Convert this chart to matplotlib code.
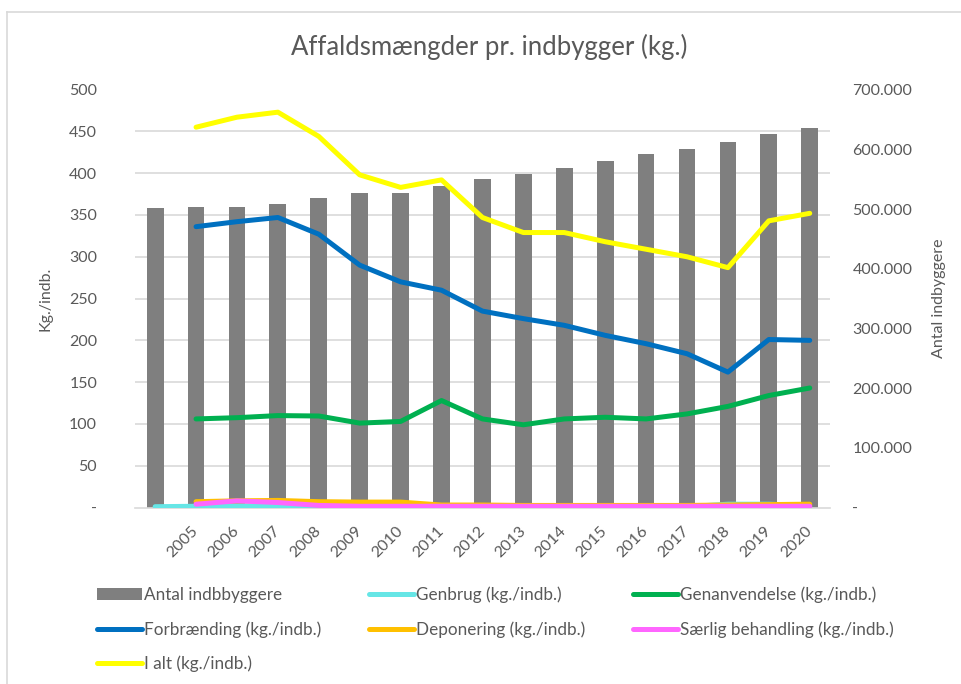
import matplotlib.pyplot as plt
import numpy as np
from matplotlib.lines import Line2D
from matplotlib.ticker import FuncFormatter, MultipleLocator

plt.rcParams['font.family'] = ['Lato', 'DejaVu Sans']

# first category has no year label in the original chart
years = [''] + [str(y) for y in range(2005, 2021)]

antal_indbyggere = [501000, 503000, 504000, 509000, 519000, 527000, 527000, 539000, 550000,
                    559000, 568000, 580000, 592000, 601000, 613000, 625000, 635000]

nan = np.nan
genbrug = [1, 1.5, 2, 2, 1.5, 0.5, 0.3, 0.2, 0.2, 0.2, 0.2, 0.2, 0.3, 1, 4, 4, 2]
genanvendelse = [nan, 106, 107.5, 110, 109.5, 101, 103, 128, 106, 99, 106, 108, 106, 112, 121, 134, 143]
forbraending = [nan, 336, 342, 347, 327, 290, 270, 260, 235, 226, 218, 206, 196, 184, 162, 201, 200]
deponering = [nan, 7, 8, 8.5, 7, 6.5, 6.5, 3, 3, 2.5, 2.5, 2.5, 2.5, 2.5, 3, 3.5, 4]
saerlig = [nan, 4, 8, 6, 2.5, 1.5, 1.5, 1.5, 1.5, 1.5, 1.5, 1.5, 1.5, 1.5, 1.5, 1.5, 1.5]
i_alt = [nan, 455, 467, 473, 444, 398, 383, 392, 347, 329, 329, 318, 309, 300, 287, 343, 352]

text_col = '#595959'
grid_col = '#D9D9D9'

fig = plt.figure(figsize=(9.62, 6.84), dpi=100)
ax = fig.add_axes([0.140, 0.258, 0.723, 0.611])
ax2 = ax.twinx()
ax.set_zorder(2)
ax2.set_zorder(1)
ax.patch.set_visible(False)

x = np.arange(len(years))

# bars on the right axis, underneath the lines
bars = ax2.bar(x, antal_indbyggere, width=0.41, color='#7F7F7F', label='Antal indbbyggere')
ax2.set_ylim(0, 700000)
ax2.yaxis.set_major_locator(MultipleLocator(100000))
ax2.yaxis.set_minor_locator(MultipleLocator(70000))
ax2.grid(which='minor', axis='y', color=grid_col, linewidth=1.2)
ax2.set_axisbelow(True)
ax2.yaxis.set_major_formatter(FuncFormatter(
    lambda v, p: '-' if v == 0 else f'{int(v):,}'.replace(',', '.')))

lw = 3.6
series = [
    (genbrug, '#66E6E6', 'Genbrug (kg./indb.)'),
    (genanvendelse, '#00B050', 'Genanvendelse (kg./indb.)'),
    (forbraending, '#0070C0', 'Forbrænding (kg./indb.)'),
    (deponering, '#FFC000', 'Deponering (kg./indb.)'),
    (saerlig, '#FF66FF', 'Særlig behandling (kg./indb.)'),
    (i_alt, '#FFFF00', 'I alt (kg./indb.)'),
]
lines = {}
for vals, col, lab in series:
    ln, = ax.plot(x, vals, color=col, linewidth=lw, label=lab,
                  solid_joinstyle='round', solid_capstyle='round')
    lines[lab] = ln

ax.set_ylim(0, 500)
ax.yaxis.set_major_locator(MultipleLocator(50))
ax.yaxis.set_major_formatter(FuncFormatter(lambda v, p: '-' if v == 0 else f'{int(v)}'))
ax.set_xlim(-0.5, len(years) - 0.5)
ax.set_xticks(x)
ax.set_xticklabels(years, rotation=45, ha='right', va='center', rotation_mode='anchor')

for a in (ax, ax2):
    for s in a.spines.values():
        s.set_visible(False)
ax2.spines['bottom'].set_visible(True)
ax2.spines['bottom'].set_color(grid_col)
ax2.spines['bottom'].set_linewidth(1.2)

ax.tick_params(axis='y', length=0, pad=27, labelsize=11.5, labelcolor=text_col)
ax.tick_params(axis='x', length=0, pad=15, labelsize=11.5, labelcolor=text_col)
ax2.tick_params(axis='y', which='both', length=0, pad=16, labelsize=11.5, labelcolor=text_col)
ax2.tick_params(axis='x', length=0)

ax.set_ylabel('Kg./indb.', fontsize=11.5, color=text_col, labelpad=12)
ax2.set_ylabel('Antal indbyggere', fontsize=11.5, color=text_col, labelpad=14)

fig.text(0.509, 0.931, 'Affaldsmængder pr. indbygger (kg.)', ha='center', va='center',
         fontsize=18.5, color=text_col)

# legend, filled column by column so it reads row-wise like the original
order = ['Forbrænding (kg./indb.)', 'I alt (kg./indb.)', 'Genbrug (kg./indb.)',
         'Deponering (kg./indb.)', 'Genanvendelse (kg./indb.)', 'Særlig behandling (kg./indb.)']
handles = [bars] + [lines[k] for k in order]
labels = ['Antal indbbyggere'] + order
fig.legend(handles, labels, ncol=3, loc='upper left', bbox_to_anchor=(0.094, 0.152),
           frameon=False, fontsize=12.3, labelcolor=text_col, handlelength=2.6,
           handletextpad=0.15, columnspacing=2.8, labelspacing=1.05, borderaxespad=0)

# light chart border (top and left edges visible in the original crop)
fig.add_artist(Line2D([7 / 962, 1.0], [1 - 12 / 684, 1 - 12 / 684], color=grid_col, linewidth=1.2))
fig.add_artist(Line2D([7 / 962, 7 / 962], [0.0, 1 - 12 / 684], color=grid_col, linewidth=1.2))

fig.savefig('out.png', dpi=100)
